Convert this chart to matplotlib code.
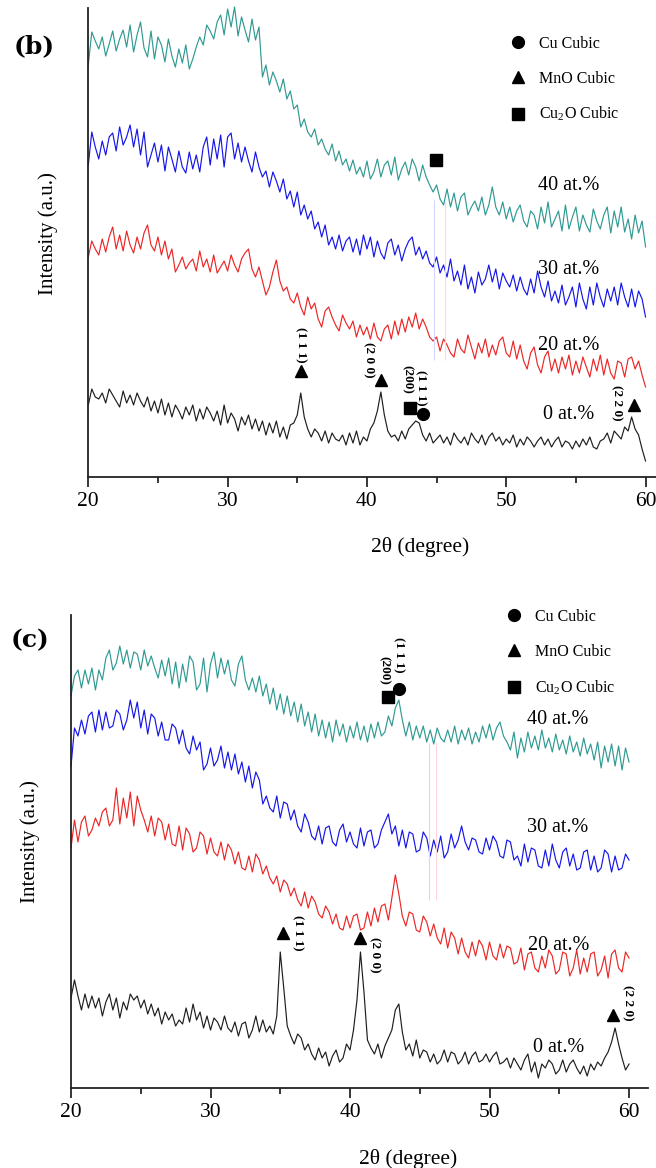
import numpy as np
import matplotlib
matplotlib.use("Agg")
from matplotlib import pyplot as plt
from matplotlib.lines import Line2D
from matplotlib.ticker import MultipleLocator

plt.rcParams["font.family"] = ["Liberation Serif", "DejaVu Serif"]
plt.rcParams["mathtext.fontset"] = "stix"

FIG_W, FIG_H = 656, 1168

# diffraction angle, 0.25 degree steps
two_theta = np.linspace(20, 60, 161)

series_names = ["40 at.%", "30 at.%", "20 at.%", "0 at.%"]
series_colors = ["#2f9a92", "#1616e8", "#ec2626", "#1e1e1e"]

# ---- panel (b) intensities (a.u.) ----
b_40 = [412, 445, 436, 428, 440, 421, 433, 446, 426, 438, 447, 430, 452, 425, 442, 455, 429, 420, 446, 418,
        440, 432, 415, 438, 421, 410, 428, 414, 432, 408, 418, 430, 440, 432, 452, 446, 438, 455, 462, 442,
        468, 450, 470, 441, 460, 447, 435, 458, 437, 450, 400, 412, 392, 405, 396, 385, 398, 378, 386, 368,
        372, 350, 358, 345, 340, 348, 332, 338, 328, 322, 333, 316, 326, 312, 318, 306, 317, 303, 310, 300,
        316, 298, 305, 318, 300, 312, 316, 302, 320, 297, 308, 315, 302, 318, 310, 296, 312, 300, 292, 285,
        292, 278, 272, 288, 270, 284, 266, 280, 284, 262, 270, 276, 266, 280, 262, 272, 290, 270, 262, 275,
        258, 270, 255, 266, 272, 256, 250, 266, 262, 248, 270, 254, 275, 250, 258, 266, 246, 272, 248, 260,
        270, 246, 262, 252, 245, 268, 256, 248, 262, 270, 244, 266, 250, 270, 245, 258, 238, 262, 244, 256, 230]
b_30 = [312, 345, 330, 318, 336, 322, 340, 344, 326, 350, 332, 340, 352, 330, 348, 322, 345, 310, 322, 334,
        315, 332, 306, 330, 318, 305, 326, 310, 304, 325, 308, 322, 305, 330, 340, 312, 338, 318, 342, 310,
        340, 344, 318, 334, 315, 330, 316, 305, 325, 310, 300, 306, 290, 305, 296, 285, 298, 278, 286, 270,
        285, 262, 272, 258, 266, 248, 255, 240, 252, 232, 240, 228, 242, 226, 236, 240, 225, 238, 222, 242,
        228, 240, 220, 236, 224, 218, 234, 238, 222, 232, 216, 228, 236, 240, 222, 230, 218, 226, 214, 210,
        220, 204, 212, 200, 218, 196, 206, 192, 212, 188, 200, 184, 205, 192, 198, 212, 195, 208, 188, 204,
        196, 190, 202, 186, 200, 188, 182, 198, 184, 206, 190, 180, 196, 176, 186, 174, 192, 172, 180, 190,
        170, 194, 178, 168, 190, 172, 194, 180, 170, 188, 176, 190, 172, 194, 180, 170, 188, 170, 186, 178, 160]
b_20 = [220, 236, 228, 222, 238, 225, 240, 250, 228, 242, 226, 246, 232, 224, 240, 228, 244, 252, 232, 226,
        240, 222, 236, 218, 228, 205, 212, 220, 208, 214, 218, 206, 226, 210, 218, 205, 222, 204, 210, 216,
        206, 222, 212, 205, 218, 224, 228, 208, 200, 210, 196, 182, 190, 205, 217, 196, 186, 190, 178, 174,
        184, 170, 162, 180, 168, 174, 158, 150, 166, 170, 160, 152, 146, 162, 154, 148, 156, 140, 152, 142,
        150, 138, 154, 140, 136, 148, 152, 138, 156, 142, 158, 145, 160, 150, 164, 148, 158, 150, 140, 136,
        140, 126, 138, 132, 124, 120, 138, 128, 124, 142, 130, 118, 134, 124, 138, 120, 132, 122, 136, 140,
        124, 120, 136, 118, 132, 116, 108, 124, 130, 112, 104, 120, 126, 106, 118, 104, 120, 108, 122, 102,
        116, 104, 120, 110, 100, 118, 106, 122, 102, 118, 104, 98, 116, 114, 100, 118, 120, 108, 116, 102, 90]
b_0 = [72, 88, 80, 78, 84, 74, 88, 82, 76, 70, 86, 74, 82, 72, 84, 76, 70, 80, 66, 76,
       64, 78, 62, 74, 60, 72, 66, 58, 70, 62, 72, 56, 68, 58, 70, 64, 56, 66, 52, 72,
       54, 64, 58, 46, 60, 52, 62, 48, 58, 46, 56, 42, 54, 44, 56, 40, 50, 38, 52, 54,
       62, 84, 60, 48, 40, 48, 44, 36, 46, 34, 44, 38, 36, 42, 32, 44, 34, 46, 32, 40,
       36, 48, 54, 66, 85, 62, 46, 40, 42, 36, 46, 38, 48, 52, 56, 54, 42, 36, 44, 34,
       38, 42, 34, 40, 32, 44, 38, 34, 40, 32, 44, 38, 34, 42, 32, 40, 44, 36, 40, 32,
       38, 34, 42, 30, 38, 32, 40, 36, 30, 36, 40, 32, 38, 30, 36, 40, 30, 36, 34, 28,
       36, 30, 38, 32, 40, 30, 28, 36, 38, 44, 34, 46, 42, 38, 50, 46, 60, 48, 42, 28, 16]

# ---- panel (c) intensities (a.u.) ----
c_40 = [392, 412, 418, 400, 418, 404, 420, 398, 418, 408, 430, 438, 418, 425, 442, 424, 438, 420, 436, 434,
        418, 438, 422, 432, 420, 410, 428, 412, 430, 404, 426, 400, 424, 406, 432, 426, 398, 404, 430, 396,
        424, 436, 410, 430, 414, 428, 408, 402, 424, 432, 408, 398, 410, 396, 412, 392, 404, 384, 400, 378,
        394, 374, 392, 372, 386, 366, 384, 362, 376, 356, 374, 352, 368, 350, 366, 346, 368, 352, 364, 346,
        362, 350, 366, 348, 362, 346, 364, 350, 366, 352, 356, 372, 362, 380, 388, 368, 352, 366, 348, 362,
        350, 362, 346, 358, 344, 360, 350, 346, 358, 346, 362, 344, 358, 348, 360, 344, 356, 346, 362, 350,
        364, 348, 360, 366, 352, 346, 338, 356, 330, 350, 336, 356, 340, 352, 338, 358, 340, 350, 336, 354,
        338, 348, 334, 352, 336, 346, 332, 350, 334, 344, 328, 346, 320, 342, 326, 344, 322, 342, 318, 340, 326]
c_30 = [322, 360, 352, 368, 354, 372, 376, 356, 378, 358, 376, 360, 362, 378, 374, 358, 368, 388, 370, 386,
        360, 378, 354, 374, 370, 352, 366, 348, 348, 364, 360, 344, 358, 340, 334, 352, 338, 346, 318, 324,
        340, 322, 328, 342, 320, 336, 318, 334, 314, 326, 306, 322, 300, 316, 308, 284, 292, 280, 276, 292,
        270, 286, 284, 268, 278, 262, 256, 274, 266, 252, 248, 262, 244, 260, 262, 246, 242, 258, 264, 246,
        256, 244, 240, 260, 242, 256, 258, 240, 244, 258, 266, 274, 254, 262, 242, 258, 240, 256, 254, 236,
        238, 256, 250, 232, 248, 236, 252, 230, 236, 254, 240, 248, 262, 246, 238, 250, 248, 236, 234, 250,
        238, 252, 246, 232, 230, 248, 246, 228, 232, 222, 244, 226, 240, 238, 222, 220, 238, 222, 244, 228,
        220, 236, 240, 222, 234, 218, 220, 236, 238, 218, 232, 216, 220, 238, 234, 216, 232, 218, 220, 234, 228]
c_20 = [240, 268, 246, 266, 272, 252, 258, 270, 262, 276, 280, 262, 268, 300, 264, 290, 270, 296, 262, 292,
        278, 268, 256, 272, 252, 270, 266, 248, 264, 244, 242, 262, 238, 260, 254, 236, 240, 256, 252, 234,
        250, 236, 232, 246, 228, 244, 238, 224, 236, 220, 218, 232, 216, 234, 228, 214, 222, 210, 204, 212,
        196, 208, 204, 192, 200, 188, 182, 196, 180, 192, 186, 174, 170, 182, 176, 164, 174, 160, 158, 172,
        160, 172, 174, 158, 160, 176, 162, 180, 166, 182, 184, 168, 190, 213, 194, 172, 162, 176, 174, 158,
        156, 172, 166, 152, 164, 150, 144, 160, 140, 156, 150, 134, 150, 136, 130, 146, 132, 148, 142, 128,
        146, 132, 128, 144, 130, 142, 140, 124, 126, 140, 118, 134, 136, 120, 116, 132, 120, 138, 132, 114,
        118, 136, 134, 112, 120, 138, 114, 130, 116, 134, 136, 112, 118, 132, 110, 134, 138, 120, 116, 136, 130]
c_0 = [90, 108, 92, 78, 94, 80, 92, 80, 90, 72, 86, 94, 78, 90, 70, 86, 78, 94, 88, 92,
       80, 88, 74, 84, 72, 80, 64, 76, 68, 74, 62, 68, 64, 80, 66, 84, 68, 76, 60, 72,
       58, 70, 66, 58, 72, 60, 56, 66, 52, 64, 66, 50, 58, 72, 56, 68, 56, 62, 54, 72,
       136, 100, 62, 52, 44, 54, 50, 38, 44, 34, 28, 40, 30, 36, 22, 32, 38, 26, 30, 44,
       38, 58, 88, 136, 96, 48, 40, 34, 44, 30, 42, 50, 58, 78, 84, 56, 38, 44, 32, 48,
       30, 38, 36, 26, 34, 24, 28, 38, 26, 36, 34, 24, 28, 36, 24, 32, 36, 26, 28, 34,
       26, 32, 36, 24, 26, 30, 20, 30, 24, 18, 28, 34, 16, 26, 10, 24, 20, 28, 24, 14,
       18, 28, 16, 24, 28, 20, 14, 22, 12, 24, 18, 26, 22, 30, 36, 46, 60, 44, 30, 18, 24]

phase_labels = ["Cu Cubic", "MnO Cubic", r"Cu$_\mathregular{2}$O Cubic"]
phase_markers = ["o", "^", "s"]

# peak marks: (series index, 2theta, marker, gap above peak, hkl, text offset in px)
b_peaks = [
    (3, 35.25, "^", 22, "(1 1 1)", (0, 26)),
    (3, 41.0, "^", 12, "(2 0 0)", (-12, 20)),
    (3, 43.1, "s", 17, "(200)", (-3, 29)),
    (3, 44.0, "o", 9, "(1 1 1)", (-2, 26)),
    (3, 59.2, "^", 12, "(2 2 0)", (-18, 2)),
    (0, 44.96, "s", 25, "", (0, 0)),
]
c_peaks = [
    (3, 35.18, "^", 19, "(1 1 1)", (15, 0)),
    (3, 40.72, "^", 14, "(2 0 0)", (15, -17)),
    (0, 42.7, "s", 19, "(200)", (-4, 27)),
    (0, 43.5, "o", 11, "(1 1 1)", (0, 34)),
    (3, 58.85, "^", 13, "(2 2 0)", (15, 12)),
]


def local_max(series, x0, half_width=0.3):
    s = np.asarray(series)
    near = np.abs(two_theta - x0) <= half_width
    return s[near].max()


def draw_panel(ax, data, peaks, xmax, ymax, label_x, label_ys, legend_anchor, streaks):
    for vals, color in zip(data, series_colors):
        ax.plot(two_theta, vals, color=color, lw=0.85, clip_on=False)

    for x0, y0, y1, c in streaks:
        ax.vlines(x0, y0, y1, color=c, lw=0.8)

    for idx, x0, mk, gap, hkl, off in peaks:
        y = local_max(data[idx], x0) + gap
        ax.plot(x0, y, marker=mk, color="black", ms=8.5, ls="none", clip_on=False)
        if hkl:
            ax.annotate(hkl, (x0, y), xytext=off, textcoords="offset pixels",
                        rotation=-90, ha="center", va="center",
                        fontsize=9.5, fontweight="bold")

    for name, yl in zip(series_names, label_ys):
        ax.text(label_x[name], yl, name, fontsize=14.5, ha="left", va="center")

    handles = [Line2D([], [], ls="none", marker=m, color="black", ms=8.5)
               for m in phase_markers]
    ax.legend(handles, phase_labels, loc="upper left", bbox_to_anchor=legend_anchor,
              frameon=False, fontsize=11.5, handlelength=1.0, handletextpad=0.8,
              labelspacing=1.18, borderaxespad=0, borderpad=0)

    ax.set_xlim(20, xmax)
    ax.set_ylim(0, ymax)
    ax.set_yticks([])
    ax.xaxis.set_major_locator(MultipleLocator(10))
    ax.xaxis.set_minor_locator(MultipleLocator(5))
    ax.tick_params(axis="x", which="major", direction="out", length=7, width=1.1,
                   labelsize=15.5, pad=4)
    ax.tick_params(axis="x", which="minor", direction="out", length=4, width=1.1)
    for side in ["top", "right"]:
        ax.spines[side].set_visible(False)
    for side in ["left", "bottom"]:
        ax.spines[side].set_linewidth(1.3)
        ax.spines[side].set_color("#222222")

    ax.set_xlabel("2θ (degree)", fontsize=15.5)
    ax.set_ylabel("Intensity (a.u.)", fontsize=15)
    ax.xaxis.set_label_coords(0.585, -0.128)
    ax.yaxis.set_label_coords(-0.054, 0.52)


fig = plt.figure(figsize=(FIG_W / 100, FIG_H / 100), dpi=100)

ax_b = fig.add_axes([88.3 / FIG_W, (FIG_H - 477) / FIG_H, (FIG_W - 88.3) / FIG_W, 469 / FIG_H])
draw_panel(ax_b, [b_40, b_30, b_20, b_0], b_peaks, 60.75, 469,
           {"40 at.%": 52.28, "30 at.%": 52.28, "20 at.%": 52.28, "0 at.%": 52.64},
           [292, 207, 132, 63], (0.743, 0.941),
           [(44.82, 117, 277, "#d4d4ff"), (45.61, 117, 277, "#ffd4dc")])

ax_c = fig.add_axes([71 / FIG_W, (FIG_H - 1088) / FIG_H, 577 / FIG_W, 473 / FIG_H])
draw_panel(ax_c, [c_40, c_30, c_20, c_0], c_peaks, 61.36, 473,
           {"40 at.%": 52.69, "30 at.%": 52.69, "20 at.%": 52.76, "0 at.%": 53.12},
           [368, 260, 143, 41], (0.754, 1.013),
           [(45.66, 188, 345, "#d4d4ff"), (46.16, 188, 345, "#ffd4dc")])

fig.text(34 / FIG_W, 1 - 46 / FIG_H, "(b)", family="DejaVu Serif", fontweight="bold",
         fontsize=18, ha="center", va="center")
fig.text(30 / FIG_W, 1 - 640 / FIG_H, "(c)", family="DejaVu Serif", fontweight="bold",
         fontsize=18, ha="center", va="center")

fig.savefig("out.png", dpi=100)
